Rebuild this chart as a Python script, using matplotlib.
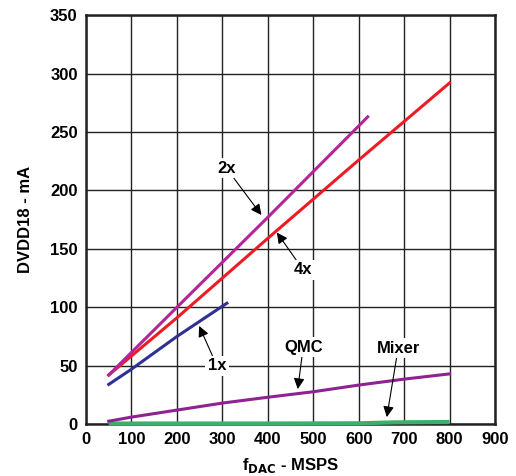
import matplotlib.pyplot as plt

# data
f_2x = [50, 200, 400, 620]
i_2x = [42, 100, 177, 263]
f_4x = [50, 200, 400, 600, 800]
i_4x = [42, 91, 159, 226, 292]
f_1x = [50, 100, 200, 310]
i_1x = [34, 47, 75, 103.5]
f_qmc = [50, 100, 200, 300, 400, 500, 600, 700, 800]
i_qmc = [2.5, 6, 12, 18, 23, 27.7, 33.4, 38.5, 43]
f_mix = [50, 200, 400, 600, 680, 800]
i_mix = [0.5, 0.5, 0.5, 0.7, 1.5, 1.8]

plt.rcParams['font.family'] = ['Liberation Sans', 'DejaVu Sans']
plt.rcParams['font.weight'] = 'bold'

fig = plt.figure(figsize=(5.16, 4.76), dpi=100)
ax = fig.add_axes([0.1667, 0.109, 0.7925, 0.859])

ax.plot(f_mix, i_mix, color='#3DAE6B', lw=3, solid_capstyle='butt', zorder=3, clip_on=False)
ax.plot(f_qmc, i_qmc, color='#8E2291', lw=2.2, zorder=3)
ax.plot(f_1x, i_1x, color='#2E3192', lw=2.2, zorder=3)
ax.plot(f_4x, i_4x, color='#ED1C24', lw=2.2, zorder=3)
ax.plot(f_2x, i_2x, color='#B5259A', lw=2.2, zorder=3)

ax.set_xlim(0, 900)
ax.set_ylim(0, 350)
ax.set_xticks(range(0, 901, 100))
ax.set_yticks(range(0, 351, 50))
ax.grid(True, color='#222222', lw=1)
ax.set_axisbelow(True)
ax.tick_params(length=0, pad=6, labelsize=12)
for s in ax.spines.values():
    s.set_linewidth(1.8)
    s.set_color('#222222')

ax.set_xlabel('f$_{\\mathbf{DAC}}$ - MSPS', fontsize=12, fontweight='bold', labelpad=6)
ax.set_ylabel('DVDD18 - mA', fontsize=12, fontweight='bold', labelpad=12)

box = dict(boxstyle='square,pad=0.15', fc='white', ec='none')
arrow = dict(arrowstyle='-|>', color='black', lw=0.8, mutation_scale=16, shrinkA=0, shrinkB=0)
notes = [
    ('2x', (386, 179), (309, 219)),
    ('4x', (420, 164), (478, 132)),
    ('1x', (249, 84), (288, 50)),
    ('QMC', (466, 30), (478, 66)),
    ('Mixer', (662, 6), (687, 65)),
]
for txt, tip, pos in notes:
    ax.annotate(txt, xy=tip, xytext=pos, ha='center', va='center',
                fontsize=12, fontweight='bold', bbox=box, arrowprops=arrow, zorder=5)

fig.savefig('out.png', dpi=100)
